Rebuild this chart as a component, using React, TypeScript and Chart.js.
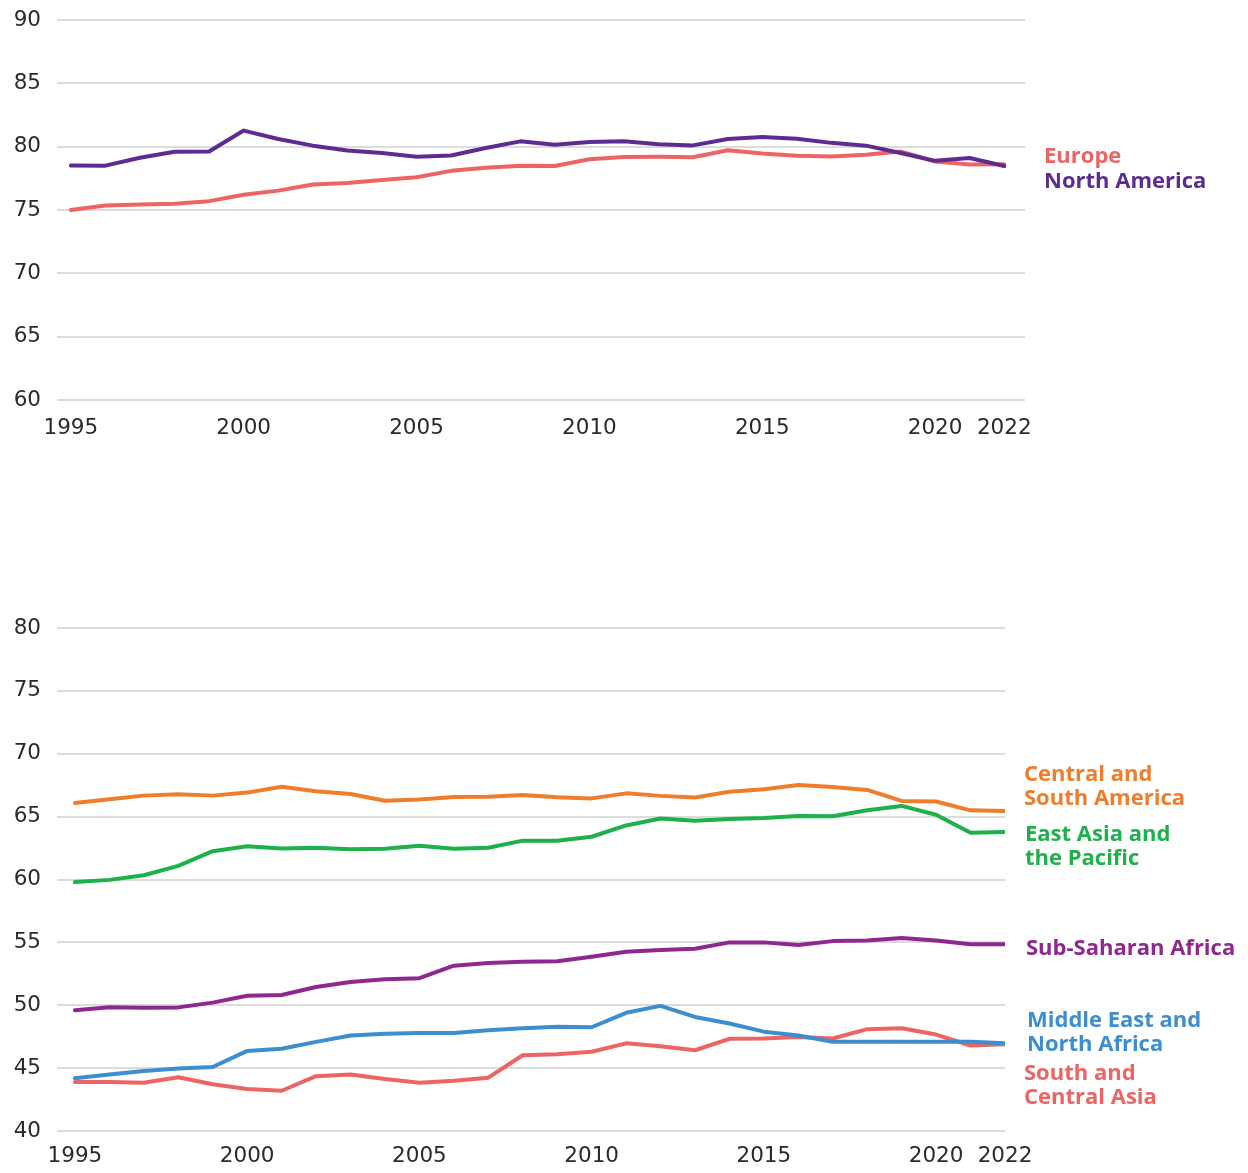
import React, { useEffect, useRef } from "react";
import { Chart, registerables } from "chart.js";

Chart.register(...registerables);

// ---------- Data ----------
const years: number[] = [
  1995, 1996, 1997, 1998, 1999, 2000, 2001, 2002, 2003, 2004, 2005, 2006, 2007, 2008,
  2009, 2010, 2011, 2012, 2013, 2014, 2015, 2016, 2017, 2018, 2019, 2020, 2021, 2022,
];
const xTickYears: number[] = [1995, 2000, 2005, 2010, 2015, 2020, 2022];

// Top panel
const europe: number[] = [
  75.0, 75.36, 75.43, 75.5, 75.7, 76.2, 76.53, 77.02, 77.14, 77.37, 77.58, 78.09, 78.34, 78.5,
  78.47, 79.0, 79.18, 79.2, 79.16, 79.72, 79.46, 79.29, 79.23, 79.36, 79.62, 78.83, 78.6, 78.62,
];
const northAmerica: number[] = [
  78.52, 78.5, 79.13, 79.6, 79.62, 81.27, 80.6, 80.08, 79.7, 79.5, 79.2, 79.3, 79.9, 80.42,
  80.15, 80.37, 80.42, 80.2, 80.1, 80.6, 80.77, 80.63, 80.3, 80.08, 79.5, 78.88, 79.1, 78.47,
];

// Bottom panel
const centralSouthAmerica: number[] = [
  66.09, 66.39, 66.67, 66.78, 66.67, 66.91, 67.38, 67.02, 66.8, 66.26, 66.37, 66.56, 66.58, 66.72,
  66.55, 66.45, 66.85, 66.65, 66.52, 66.98, 67.18, 67.52, 67.36, 67.12, 66.25, 66.2, 65.5, 65.45,
];
const eastAsiaPacific: number[] = [
  59.8, 59.97, 60.34, 61.08, 62.25, 62.65, 62.47, 62.53, 62.41, 62.44, 62.69, 62.44, 62.53, 63.09,
  63.08, 63.4, 64.3, 64.85, 64.68, 64.82, 64.9, 65.05, 65.03, 65.5, 65.85, 65.15, 63.72, 63.78,
];
const subSaharanAfrica: number[] = [
  49.6, 49.85, 49.8, 49.83, 50.21, 50.76, 50.82, 51.45, 51.85, 52.06, 52.15, 53.15, 53.36, 53.45,
  53.5, 53.85, 54.25, 54.4, 54.5, 55.0, 55.0, 54.8, 55.1, 55.15, 55.35, 55.15, 54.85, 54.85,
];
const middleEastNorthAfrica: number[] = [
  44.2, 44.5, 44.77, 44.97, 45.09, 46.37, 46.54, 47.09, 47.59, 47.73, 47.79, 47.79, 48.02, 48.17,
  48.3, 48.25, 49.4, 49.95, 49.07, 48.55, 47.9, 47.6, 47.1, 47.1, 47.1, 47.1, 47.1, 46.98,
];
const southCentralAsia: number[] = [
  43.9, 43.9, 43.84, 44.27, 43.72, 43.34, 43.2, 44.36, 44.5, 44.13, 43.84, 44.0, 44.24, 46.02,
  46.1, 46.3, 46.97, 46.74, 46.42, 47.33, 47.36, 47.47, 47.36, 48.1, 48.17, 47.67, 46.8, 46.9,
];

// ---------- Styles ----------
const TICK_FONT = "'DejaVu Sans', 'Open Sans', sans-serif";
const LABEL_FONT = "'Open Sans', Lato, 'DejaVu Sans', sans-serif";
const GRID = "#dcdcdc";
const TICK_COLOR = "#2a2a2a";

const C_EUROPE = "#ED6464";
const C_NA = "#5E2C91";
const C_CSA = "#F07D2B";
const C_EAP = "#1DB04B";
const C_SSA = "#8E288F";
const C_MENA = "#3C8ED1";
const C_SCA = "#EC6464";

type Series = { label: string; data: number[]; color: string };

function makeConfig(
  series: Series[],
  xMin: number,
  xMax: number,
  yMin: number,
  yMax: number,
  pad: { top: number; right: number },
  xAxisHeight: number,
  xTickPadding: number
): any {
  return {
    type: "line",
    data: {
      datasets: series.map((s) => ({
        label: s.label,
        data: years.map((y, i) => ({ x: y, y: s.data[i] })),
        borderColor: s.color,
        backgroundColor: s.color,
        borderWidth: 4,
        pointRadius: 0,
        tension: 0,
        fill: false,
        borderJoinStyle: "round",
        borderCapStyle: "round",
      })),
    },
    options: {
      responsive: false,
      maintainAspectRatio: false,
      animation: false,
      events: [],
      layout: { padding: { top: pad.top, right: pad.right, bottom: 0, left: 0 } },
      plugins: { legend: { display: false }, tooltip: { enabled: false }, title: { display: false } },
      scales: {
        x: {
          type: "linear",
          min: xMin,
          max: xMax,
          grid: { display: false, drawTicks: false },
          border: { display: false },
          afterBuildTicks: (scale: any) => {
            scale.ticks = xTickYears.map((v) => ({ value: v }));
          },
          afterFit: (scale: any) => {
            scale.height = xAxisHeight;
          },
          ticks: {
            autoSkip: false,
            maxRotation: 0,
            padding: xTickPadding,
            color: TICK_COLOR,
            font: { family: TICK_FONT, size: 21.5 },
            callback: (v: any) => String(v),
          },
        },
        y: {
          min: yMin,
          max: yMax,
          grid: { color: GRID, lineWidth: 2, drawTicks: false },
          border: { display: false },
          afterFit: (scale: any) => {
            scale.width = 57;
            scale.paddingTop = 0;
            scale.paddingBottom = 0;
          },
          ticks: {
            stepSize: 5,
            padding: 16,
            color: TICK_COLOR,
            font: { family: TICK_FONT, size: 21.5 },
          },
        },
      },
    },
  };
}

function LineChart(props: { config: any; width: number; height: number }) {
  const ref = useRef<HTMLCanvasElement | null>(null);
  useEffect(() => {
    if (!ref.current) return;
    const chart = new Chart(ref.current, props.config);
    return () => chart.destroy();
  }, [props.config]);
  return (
    <canvas
      ref={ref}
      width={props.width}
      height={props.height}
      style={{ width: props.width, height: props.height, display: "block" }}
    />
  );
}

const topSeries: Series[] = [
  { label: "North America", data: northAmerica, color: C_NA },
  { label: "Europe", data: europe, color: C_EUROPE },
];
const bottomSeries: Series[] = [
  { label: "Central and South America", data: centralSouthAmerica, color: C_CSA },
  { label: "East Asia and the Pacific", data: eastAsiaPacific, color: C_EAP },
  { label: "Sub-Saharan Africa", data: subSaharanAfrica, color: C_SSA },
  { label: "Middle East and North Africa", data: middleEastNorthAfrica, color: C_MENA },
  { label: "South and Central Asia", data: southCentralAsia, color: C_SCA },
];

const topConfig = makeConfig(topSeries, 1994.6, 2022.6, 60, 90, { top: 20, right: 223 }, 50, 16);
const bottomConfig = makeConfig(bottomSeries, 1994.48, 2022, 40, 80, { top: 28, right: 243 }, 42, 13);

const labelStyle = (color: string, left: number, top: number): React.CSSProperties => ({
  position: "absolute",
  left,
  top,
  color,
  fontFamily: LABEL_FONT,
  fontWeight: 700,
  fontSize: 22,
  lineHeight: "24px",
  whiteSpace: "nowrap",
});

export default function App() {
  return (
    <div style={{ position: "absolute", left: 0, top: 0, width: 1248, height: 1173, background: "#fff", overflow: "hidden" }}>
      <div style={{ position: "absolute", left: 0, top: 0 }}>
        <LineChart config={topConfig} width={1248} height={450} />
      </div>
      <div style={{ position: "absolute", left: 0, top: 600 }}>
        <LineChart config={bottomConfig} width={1248} height={573} />
      </div>

      <div style={labelStyle(C_EUROPE, 1044, 142)}>Europe</div>
      <div style={labelStyle(C_NA, 1044, 167)}>North America</div>

      <div style={labelStyle(C_CSA, 1024, 760)}>Central and<br />South America</div>
      <div style={labelStyle(C_EAP, 1025, 820)}>East Asia and<br />the Pacific</div>
      <div style={labelStyle(C_SSA, 1026, 934)}>Sub-Saharan Africa</div>
      <div style={labelStyle(C_MENA, 1027, 1006)}>Middle East and<br />North Africa</div>
      <div style={labelStyle(C_SCA, 1024, 1059)}>South and<br />Central Asia</div>
    </div>
  );
}
